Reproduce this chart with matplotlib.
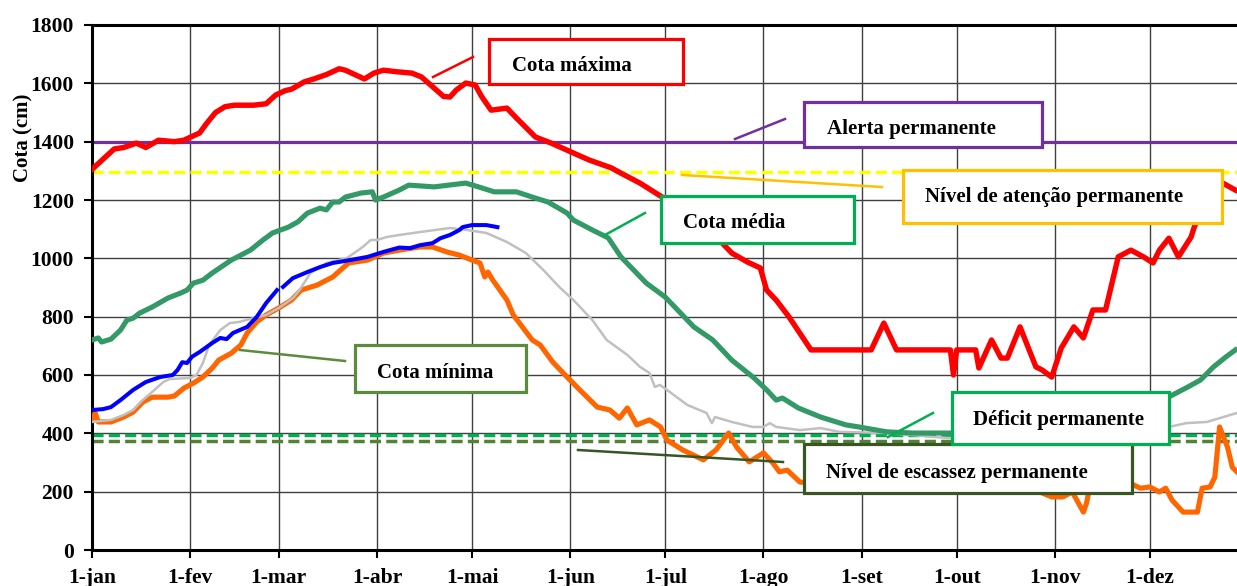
import numpy as np
import matplotlib
matplotlib.use("Agg")
import matplotlib.pyplot as plt
from matplotlib.patches import Rectangle
from matplotlib.lines import Line2D

# dia do ano (0 = 1-jan) e cota em cm
max_dias = [0, 3, 7, 10, 14, 17, 21, 26, 29, 32, 34, 36, 39, 42, 45, 51, 55, 58, 61, 63,
            67, 70, 74, 78, 80, 83, 86, 89, 92, 96, 101, 104, 108, 111, 113, 115, 118, 121,
            123, 126, 131, 134, 140, 145, 152, 157, 164, 167, 173, 179, 186, 192, 199, 202,
            207, 211, 213, 216, 220, 227, 246, 250, 254, 271, 272, 273, 279, 280, 284, 287,
            289, 293, 298, 300, 303, 306, 310, 313, 316, 320, 324, 328, 332, 335, 337, 340,
            343, 347, 348, 351, 354, 357, 361]
max_cota = [1305, 1335, 1375, 1380, 1395, 1380, 1405, 1400, 1405, 1420, 1430, 1460, 1500,
            1520, 1525, 1525, 1530, 1560, 1575, 1580, 1605, 1615, 1630, 1650, 1645, 1630,
            1615, 1635, 1645, 1640, 1635, 1622, 1584, 1555, 1553, 1577, 1601, 1594, 1555,
            1508, 1515, 1481, 1416, 1395, 1361, 1337, 1310, 1292, 1258, 1217, 1170, 1110,
            1052, 1018, 987, 967, 891, 857, 800, 686, 686, 778, 686, 686, 600, 686, 686,
            624, 720, 658, 658, 765, 628, 617, 593, 692, 765, 727, 823, 823, 1005, 1028,
            1005, 984, 1028, 1069, 1005, 1073, 1107, 1180, 1230, 1258, 1234]

med_dias = [0, 2, 3, 6, 9, 11, 13, 15, 19, 24, 28, 30, 32, 35, 38, 44, 50, 54, 57, 62, 65,
            68, 72, 74, 76, 78, 80, 85, 88.5, 89.5, 92, 97, 100, 108, 118, 122, 127, 134, 139,
            144, 150, 152, 158, 163, 167, 171, 175, 181, 190, 196, 202, 209, 213, 216, 218,
            223, 230, 238, 242, 251, 259, 270, 286, 300, 320, 335, 340, 346, 350, 354, 358,
            361]
med_cota = [720, 727, 713, 723, 754, 788, 795, 812, 833, 864, 881, 891, 915, 925, 950, 994,
            1028, 1063, 1087, 1107, 1125, 1155, 1172, 1166, 1193, 1193, 1210, 1224, 1228,
            1200, 1210, 1234, 1251, 1245, 1258, 1245, 1228, 1228, 1210, 1193, 1155, 1131,
            1097, 1070, 1005, 960, 915, 867, 765, 720, 651, 590, 549, 514, 521, 487, 456,
            429, 422, 405, 401, 401, 400, 420, 460, 505, 525, 559, 583, 627, 662, 686]

azul_dias = [0, 3.5, 6, 9, 13, 17, 21.5, 25.5, 27, 28.5, 30, 31.5, 34, 38, 40.5, 42.5, 44.5,
             49, 52, 55, 58.4, 59.2, 60.3, 63.4, 68, 72, 76, 81.5, 87, 92, 97, 100.5, 103.5,
             107.5, 110, 113, 116, 117, 120, 124.5, 128]
azul_cota = [480, 483, 490, 514, 549, 576, 593, 600, 617, 644, 641, 662, 679, 710, 727, 723,
             744, 765, 799, 847, 891, np.nan, 902, 932, 953, 970, 984, 994, 1005, 1022, 1037,
             1035, 1045, 1052, 1069, 1080, 1097, 1107, 1114, 1114, 1107]

min_dias = [0, 1, 2, 6, 10, 13, 16, 19, 24, 26, 29, 32, 35, 38, 40, 44, 47, 49, 52, 55, 59,
            63, 66, 71, 76, 81, 87, 92, 97, 103.5, 107.5, 112, 116, 120, 122.5, 124, 125,
            126.5, 131, 133, 139, 141.5, 145.5, 150, 154, 159.5, 163.5, 166.5, 169, 172, 176,
            179.5, 181.5, 186.5, 193, 197, 201, 203.5, 207.5, 212, 215, 217, 219.5, 223.5,
            233, 249, 271, 287, 299, 303, 306.5, 309.5, 313, 314, 315, 321, 327.5, 331, 334,
            337, 339, 341, 344.5, 349, 350.5, 353, 354.5, 356, 358.5, 360, 361.5]
min_cota = [446, 470, 439, 439, 456, 473, 507, 524, 524, 528, 555, 572, 593, 624, 651, 675,
            703, 744, 782, 806, 830, 857, 891, 908, 936, 984, 994, 1018, 1028, 1039, 1039,
            1022, 1011, 994, 984, 936, 953, 926, 857, 806, 720, 703, 644, 593, 549, 490, 480,
            452, 487, 429, 446, 422, 377, 343, 309, 343, 401, 353, 302, 333, 298, 268, 274,
            233, 225, 245, 235, 215, 200, 182, 182, 199, 130, 161, 216, 225, 230, 212, 216,
            199, 212, 171, 130, 130, 212, 216, 250, 422, 353, 284, 268]

cinza_dias = [0, 6, 10, 13, 16, 19, 22.5, 24.5, 31, 33, 35, 37, 40.5, 43.5, 46.5, 51, 55, 59,
              63.5, 65.5, 69, 74, 80.5, 85.5, 88, 90, 93, 97, 103.5, 113, 118.5, 124.5, 131,
              137, 142.5, 147.5, 152, 158, 162.5, 169, 173, 176, 177.7, 179.3, 181.5, 188, 194,
              195.7, 196.7, 202, 208.5, 212, 214, 216, 223.5, 230, 236, 251, 259, 270, 287,
              318, 340, 345.5, 352, 356, 361.5]
cinza_cota = [439, 446, 463, 480, 514, 542, 576, 586, 590, 600, 641, 703, 754, 778, 782, 795,
              806, 830, 864, 891, 950, 984, 1001, 1039, 1063, 1063, 1073, 1080, 1090, 1104,
              1097, 1087, 1056, 1018, 960, 902, 857, 788, 720, 669, 628, 607, 559, 566, 549,
              497, 470, 435, 456, 439, 422, 422, 435, 422, 411, 418, 405, 401, 394, 384, 380,
              395, 422, 435, 439, 452, 470]

alerta = 1400
atencao = 1295
deficit = 395
escassez = 375

meses = ["1-jan", "1-fev", "1-mar", "1-abr", "1-mai", "1-jun", "1-jul", "1-ago", "1-set",
         "1-out", "1-nov", "1-dez"]
inicio_mes = [0, 31, 59, 90, 120, 151, 181, 212, 243, 273, 304, 334]

W, H = 1237, 586
fonte = "Liberation Serif"
plt.rcParams["font.family"] = [fonte, "DejaVu Serif"]
plt.rcParams["font.weight"] = "bold"

fig = plt.figure(figsize=(W / 100, H / 100), dpi=100)
ax = fig.add_axes([92 / W, 1 - 550 / H, (W - 92) / W, 525 / H])

tracejado = (0, (3.2, 1.5))
ax.axhline(alerta, color="#7030A0", lw=2.3, zorder=2)
ax.axhline(atencao, color="#FFFF00", lw=2.5, ls=tracejado, zorder=2)
ax.axhline(deficit, color="#00B050", lw=2.5, ls=tracejado, zorder=2)
ax.axhline(escassez, color="#548235", lw=2.5, ls=tracejado, zorder=2)

ax.plot(min_dias, min_cota, color="#FF6600", lw=3.7, zorder=3)
ax.plot(cinza_dias, cinza_cota, color="#C0C0C0", lw=1.8, zorder=4)
ax.plot(azul_dias, azul_cota, color="#0000FF", lw=2.9, zorder=5)
ax.plot(med_dias, med_cota, color="#339966", lw=3.7, zorder=6)
ax.plot(max_dias, max_cota, color="#FF0000", lw=3.9, zorder=7)

ax.set_xlim(0, 361.5)
ax.set_ylim(0, 1800)
ax.set_yticks(range(0, 1801, 200))
ax.set_xticks(inicio_mes)
ax.set_xticklabels(meses)
ax.grid(True, color="#404040", lw=1.0, zorder=1)
ax.set_axisbelow(True)
ax.tick_params(axis="both", labelsize=15.5, length=6, width=1.5, direction="out", pad=7)
for lab in ax.get_xticklabels() + ax.get_yticklabels():
    lab.set_fontweight("bold")
ax.set_ylabel("Cota (cm)", fontsize=15, fontweight="bold")
ax.yaxis.set_label_coords(-0.051, 0.785)
ax.spines["right"].set_visible(False)
for s in ["left", "bottom", "top"]:
    ax.spines[s].set_linewidth(2.2)


def fx(x):
    return x / W


def fy(y):
    return 1 - y / H


# caixas de rotulo: (texto, esquerda, topo, direita, base, x do texto, linha de base, cor)
caixas = [
    ("Cota máxima", 489, 39, 683, 84, 512, 71, "#FF0000"),
    ("Alerta permanente", 804, 102, 1042, 147, 827, 134, "#7030A0"),
    ("Nível de atenção permanente", 903, 170, 1222, 223, 925, 202, "#FFC000"),
    ("Cota média", 661, 196, 854, 243, 683, 228, "#00B050"),
    ("Cota mínima", 355, 345, 526, 392, 377, 378, "#5B8B3C"),
    ("Nível de escassez permanente", 804, 444, 1132, 493, 826, 478, "#375623"),
    ("Déficit permanente", 952, 392, 1169, 444, 973, 425, "#00B050"),
]
for i, (txt, x0, y0, x1, y1, tx, ty, cor) in enumerate(caixas):
    fig.add_artist(Rectangle((fx(x0), fy(y1)), fx(x1) - fx(x0), fy(y0) - fy(y1),
                             transform=fig.transFigure, facecolor="white",
                             edgecolor=cor, lw=2.3, zorder=10 + i))
    fig.text(fx(tx), fy(ty), txt, fontsize=15, fontweight="bold", ha="left",
             va="baseline", zorder=10.5 + i)

# linhas de chamada
chamadas = [
    ((433, 77), (473, 57), "#FF0000"),
    ((735, 139), (785, 119), "#7030A0"),
    ((682, 175), (882, 187), "#FFC000"),
    ((605, 235), (645, 213), "#00B050"),
    ((240, 350), (345, 361), "#5B8B3C"),
    ((888, 437), (933, 413), "#00B050"),
    ((578, 450), (783, 462), "#375623"),
]
for (a, b, cor) in chamadas:
    fig.add_artist(Line2D([fx(a[0]), fx(b[0])], [fy(a[1]), fy(b[1])],
                          transform=fig.transFigure, color=cor, lw=1.8, zorder=9))

fig.savefig("out.png", dpi=100)
